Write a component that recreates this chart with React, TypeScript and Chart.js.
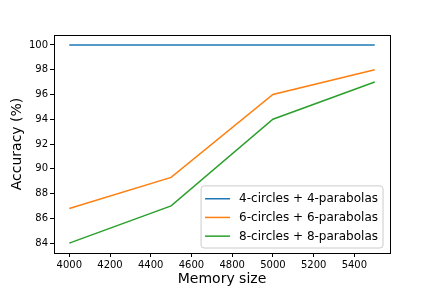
import React, { useEffect, useRef } from "react";
import { Chart, registerables } from "chart.js";

Chart.register(...registerables);

const memorySizes = [4000, 4500, 5000, 5500];
const acc4 = [100, 100, 100, 100];
const acc6 = [86.8, 89.3, 96, 98];
const acc8 = [84, 87, 94, 97];
const seriesLabels = ["4-circles + 4-parabolas", "6-circles + 6-parabolas", "8-circles + 8-parabolas"];
const seriesColors = ["#1f77b4", "#ff7f0e", "#2ca02c"];
const xTicks = [4000, 4200, 4400, 4600, 4800, 5000, 5200, 5400];
const yTicks = [84, 86, 88, 90, 92, 94, 96, 98, 100];

const FONT = "'DejaVu Sans', sans-serif";

const framePlugin = {
  id: "frame",
  afterDraw(chart: any) {
    const { ctx, chartArea } = chart;
    const { left, right, top, bottom } = chartArea;
    ctx.save();
    ctx.strokeStyle = "#000";
    ctx.lineWidth = 1;
    ctx.strokeRect(Math.round(left) + 0.5, Math.round(top) + 0.5, Math.round(right - left), Math.round(bottom - top));

    // legend
    ctx.font = `12px ${FONT}`;
    const textW = Math.max(...seriesLabels.map((t) => ctx.measureText(t).width));
    const rowH = 18.7;
    const pad = 4;
    const lineLen = 25;
    const gap = 9;
    const boxW = pad + lineLen + gap + textW + 5;
    const boxH = rowH * seriesLabels.length + 6;
    const bx = right - 7 - boxW;
    const by = bottom - 5 - boxH;
    const r = 3;
    ctx.beginPath();
    ctx.moveTo(bx + r, by);
    ctx.lineTo(bx + boxW - r, by);
    ctx.arcTo(bx + boxW, by, bx + boxW, by + r, r);
    ctx.lineTo(bx + boxW, by + boxH - r);
    ctx.arcTo(bx + boxW, by + boxH, bx + boxW - r, by + boxH, r);
    ctx.lineTo(bx + r, by + boxH);
    ctx.arcTo(bx, by + boxH, bx, by + boxH - r, r);
    ctx.lineTo(bx, by + r);
    ctx.arcTo(bx, by, bx + r, by, r);
    ctx.closePath();
    ctx.fillStyle = "rgba(255,255,255,0.8)";
    ctx.fill();
    ctx.strokeStyle = "#cccccc";
    ctx.lineWidth = 1;
    ctx.stroke();
    ctx.textBaseline = "middle";
    ctx.textAlign = "left";
    seriesLabels.forEach((t, i) => {
      const cy = by + 3 + rowH * (i + 0.5) + 0.5;
      ctx.strokeStyle = seriesColors[i];
      ctx.lineWidth = 1.5;
      ctx.beginPath();
      ctx.moveTo(bx + pad, cy);
      ctx.lineTo(bx + pad + lineLen, cy);
      ctx.stroke();
      ctx.fillStyle = "#000";
      ctx.fillText(t, bx + pad + lineLen + gap, cy + 0.5);
    });
    ctx.restore();
  },
};

export default function App() {
  const ref = useRef<HTMLCanvasElement | null>(null);
  useEffect(() => {
    if (!ref.current) return;
    const mk = (vals: number[]) => memorySizes.map((x, i) => ({ x, y: vals[i] }));
    const chart = new Chart(ref.current, {
      type: "line",
      data: {
        datasets: [acc4, acc6, acc8].map((v, i) => ({
          label: seriesLabels[i],
          data: mk(v),
          borderColor: seriesColors[i],
          backgroundColor: seriesColors[i],
          borderWidth: 1.5,
          pointRadius: 0,
          tension: 0,
          fill: false,
        })),
      },
      options: {
        responsive: false,
        animation: false,
        layout: { padding: { top: 35, right: 42, left: 0, bottom: 0 } },
        plugins: { legend: { display: false }, tooltip: { enabled: false } },
        scales: {
          x: {
            type: "linear",
            min: 3925,
            max: 5575,
            afterBuildTicks: (s: any) => {
              s.ticks = xTicks.map((v) => ({ value: v }));
            },
            afterFit: (s: any) => {
              s.height = 35;
            },
            grid: { display: true, drawOnChartArea: false, drawTicks: true, tickLength: 4, color: "#000" },
            border: { display: true, color: "#000" },
            ticks: {
              color: "#000",
              font: { family: FONT, size: 10 },
              padding: 2,
              maxRotation: 0,
              autoSkip: false,
              callback: (v: any) => String(v),
            },
            title: { display: true, text: "Memory size", color: "#000", font: { family: FONT, size: 14 }, padding: { top: 0, bottom: 0 } },
          },
          y: {
            type: "linear",
            min: 83.2,
            max: 100.8,
            afterBuildTicks: (s: any) => {
              s.ticks = yTicks.map((v) => ({ value: v }));
            },
            afterFit: (s: any) => {
              s.width = 54;
            },
            grid: { display: true, drawOnChartArea: false, drawTicks: true, tickLength: 4, color: "#000" },
            border: { display: true, color: "#000" },
            ticks: { color: "#000", font: { family: FONT, size: 10 }, padding: 2, autoSkip: false, callback: (v: any) => String(v) },
            title: { display: true, text: "Accuracy (%)", color: "#000", font: { family: FONT, size: 14 }, padding: { top: 9, bottom: 0 } },
          },
        },
      },
      plugins: [framePlugin],
    });
    return () => chart.destroy();
  }, []);
  return (
    <div style={{ position: "fixed", left: 0, top: 0, width: 432, height: 288, background: "#fff" }}>
      <canvas ref={ref} width={432} height={288} style={{ display: "block" }} />
    </div>
  );
}
